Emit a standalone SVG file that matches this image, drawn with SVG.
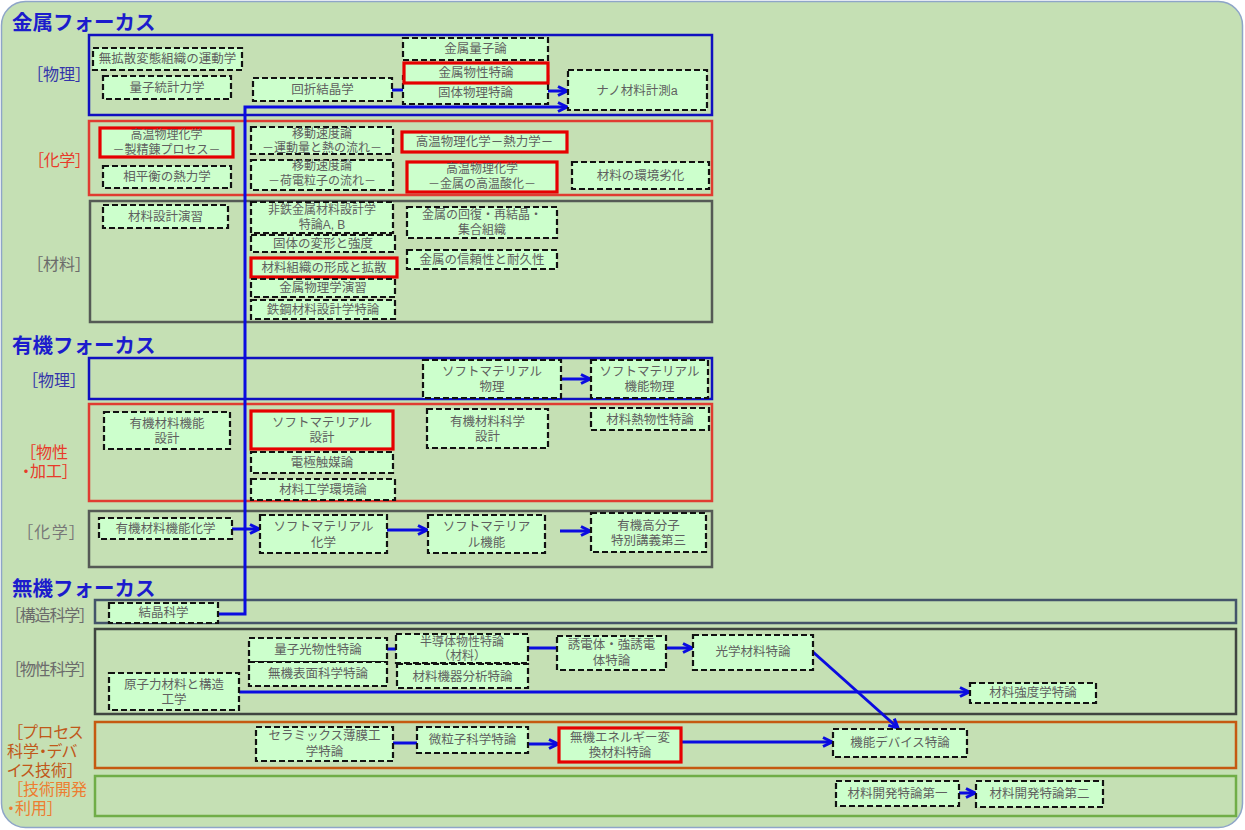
<svg xmlns="http://www.w3.org/2000/svg" width="1245" height="830" viewBox="0 0 1245 830">
<style>
.hd{font-family:"Noto Sans CJK JP","Noto Sans",sans-serif;font-size:20.5px;font-weight:bold;fill:#1c1ccc}
.lb{font-family:"Liberation Sans","Noto Sans CJK JP",sans-serif;font-size:16px;font-feature-settings:"palt";}
.grp{fill:none;stroke-width:2.5}
.n rect{fill:#ccffcc;stroke:#111;stroke-width:2.2;stroke-dasharray:6 3}
.n.r rect{stroke:#e60000;stroke-width:3.2;stroke-dasharray:none}
.n text{font-family:"Liberation Sans","Noto Sans CJK JP",sans-serif;font-size:12.5px;fill:#5f5f5f;text-anchor:middle;dominant-baseline:central}
.n text.s{font-size:12px}
.c path{fill:none;stroke:#0b0be0;stroke-width:3}
.c path.a{marker-end:url(#ah)}
</style>
<defs>
<marker id="ah" viewBox="0 0 12 12" refX="10" refY="6" markerWidth="12" markerHeight="12" markerUnits="userSpaceOnUse" orient="auto">
<path d="M1,1.5 L10,6 L1,10.5" fill="none" stroke="#0b0be0" stroke-width="3"/>
</marker>
</defs>
<rect x="0" y="0" width="1245" height="830" fill="#ffffff"/>
<rect x="1.5" y="1.5" width="1241" height="826" rx="24" fill="#c5e0b4" stroke="#8ea5c8" stroke-width="1.5"/>

<g id="headings">
<text class="hd" x="12" y="30">金属フォーカス</text>
<text class="hd" x="12" y="353">有機フォーカス</text>
<text class="hd" x="12" y="596">無機フォーカス</text>
</g>

<g id="labels">
<text class="lb" x="35" y="80" fill="#3333aa" textLength="48" lengthAdjust="spacing">［物理］</text>
<text class="lb" x="36" y="166" fill="#e83a2a" textLength="47" lengthAdjust="spacing">［化学］</text>
<text class="lb" x="35" y="270" fill="#6b6b6b" textLength="48" lengthAdjust="spacing">［材料］</text>
<text class="lb" x="30" y="386" fill="#3333aa" textLength="48" lengthAdjust="spacing">［物理］</text>
<text class="lb" x="28" y="458" fill="#e83a2a">［物性<tspan x="22" dy="19">・加工］</tspan></text>
<text class="lb" x="25" y="538" fill="#777777" textLength="52" lengthAdjust="spacing">［化学］</text>
<text class="lb" x="13" y="621" fill="#6b6b6b" textLength="74" lengthAdjust="spacing">［構造科学］</text>
<text class="lb" x="13" y="675" fill="#6b6b6b" textLength="74" lengthAdjust="spacing">［物性科学］</text>
<text class="lb" x="15" y="738" fill="#c0581a">［プロセス<tspan x="7" dy="19">科学・デバ</tspan><tspan x="7" dy="19">イス技術］</tspan></text>
<text class="lb" x="15" y="795" fill="#ed7d31">［技術開発<tspan x="7" dy="18.5">・利用］</tspan></text>
</g>

<g id="groups">
<rect class="grp" x="89" y="35" width="623" height="80" stroke="#1010c0"/>
<rect class="grp" x="89" y="121" width="623" height="74" stroke="#e03c31" stroke-width="2"/>
<rect class="grp" x="90" y="201" width="622" height="121" stroke="#555a55"/>
<rect class="grp" x="89" y="358" width="623" height="41" stroke="#1010c0"/>
<rect class="grp" x="89" y="404" width="623" height="97" stroke="#e03c31" stroke-width="2"/>
<rect class="grp" x="89" y="511" width="623" height="56" stroke="#555a55"/>
<rect class="grp" x="95" y="600" width="1141" height="23" stroke="#44546a"/>
<rect class="grp" x="95" y="629" width="1141" height="85" stroke="#3f4540"/>
<rect class="grp" x="95" y="722" width="1141" height="46" stroke="#c55a11"/>
<rect class="grp" x="95" y="776" width="1141" height="40" stroke="#70ad47"/>
</g>

<g id="connectors" class="c">
<path d="M392,90 H403"/>
<path class="a" d="M548,91 H567"/>
<path class="a" d="M218,614 H245 V107 H567"/>
<path class="a" d="M561,379 H590"/>
<path class="a" d="M232,529 H259"/>
<path class="a" d="M387,530 H427"/>
<path class="a" d="M560,531 H590"/>
<path d="M387,649 H396"/>
<path d="M528,648 H557"/>
<path class="a" d="M666,648 H692"/>
<path class="a" d="M239,692 H969"/>
<path class="a" d="M813,652 L898,728"/>
<path d="M393,743 H417"/>
<path class="a" d="M528,744 H558"/>
<path class="a" d="M681,742 H832"/>
<path class="a" d="M959,793 H975"/>
</g>

<g id="n1" class="n"><rect x="93" y="48" width="149" height="22"/><text x="167.5" y="59">無拡散変態組織の運動学</text></g>
<g id="n2" class="n"><rect x="103" y="76" width="128" height="23"/><text x="167" y="87.5">量子統計力学</text></g>
<g id="n3" class="n"><rect x="253" y="78" width="139" height="23"/><text x="322.5" y="89.5">回折結晶学</text></g>
<g id="n4" class="n"><rect x="403" y="38" width="145" height="22"/><text x="475.5" y="49">金属量子論</text></g>
<g id="n6" class="n"><rect x="403" y="76" width="145" height="28"/><text x="475.5" y="92.5">固体物理特論</text></g>
<g id="n5" class="n r"><rect x="404" y="63" width="144" height="20"/><text x="476" y="73">金属物性特論</text></g>
<g id="n7" class="n"><rect x="568" y="70" width="139" height="40"/><text x="637" y="91">ナノ材料計測a</text></g>

<g id="n8" class="n r"><rect x="100" y="128" width="133" height="29"/><text class="s" x="166.5" y="135">高温物理化学<tspan x="166.5" dy="14.5">－製精錬プロセス－</tspan></text></g>
<g id="n9" class="n"><rect x="251" y="127" width="142" height="27"/><text class="s" x="322" y="133.5">移動速度論<tspan x="322" dy="14">－運動量と熱の流れ－</tspan></text></g>
<g id="n10" class="n"><rect x="103" y="166" width="128" height="22"/><text x="167" y="177">相平衡の熱力学</text></g>
<g id="n11" class="n"><rect x="251" y="160" width="142" height="30"/><text class="s" x="322" y="166">移動速度論<tspan x="322" dy="15">－荷電粒子の流れ－</tspan></text></g>
<g id="n12" class="n r"><rect x="402" y="132" width="165" height="20"/><text x="484.5" y="142">高温物理化学－熱力学－</text></g>
<g id="n13" class="n r"><rect x="407" y="162" width="150" height="30"/><text class="s" x="482" y="168.5">高温物理化学<tspan x="482" dy="15">－金属の高温酸化－</tspan></text></g>
<g id="n14" class="n"><rect x="572" y="162" width="137" height="27"/><text x="640.5" y="175.5">材料の環境劣化</text></g>

<g id="n15" class="n"><rect x="103" y="205" width="125" height="23"/><text x="165.5" y="216.5">材料設計演習</text></g>
<g id="n16" class="n"><rect x="251" y="202" width="142" height="31"/><text class="s" x="322" y="210">非鉄金属材料設計学<tspan x="322" dy="15">特論A, B</tspan></text></g>
<g id="n17" class="n"><rect x="251" y="235" width="144" height="17"/><text x="323" y="243.5">固体の変形と強度</text></g>
<g id="n18" class="n r"><rect x="251" y="258" width="146" height="19"/><text x="324" y="267.5">材料組織の形成と拡散</text></g>
<g id="n19" class="n"><rect x="251" y="279" width="144" height="18"/><text x="323" y="288">金属物理学演習</text></g>
<g id="n20" class="n"><rect x="251" y="300" width="144" height="19"/><text x="323" y="309.5">鉄鋼材料設計学特論</text></g>
<g id="n21" class="n"><rect x="407" y="207" width="150" height="31"/><text class="s" x="482" y="215">金属の回復・再結晶・<tspan x="482" dy="14.5">集合組織</tspan></text></g>
<g id="n22" class="n"><rect x="407" y="250" width="150" height="19"/><text x="482" y="259.5">金属の信頼性と耐久性</text></g>

<g id="n23" class="n"><rect x="423" y="360" width="138" height="38"/><text x="492" y="372">ソフトマテリアル<tspan x="492" dy="15">物理</tspan></text></g>
<g id="n24" class="n"><rect x="591" y="360" width="117" height="38"/><text x="649.5" y="372">ソフトマテリアル<tspan x="649.5" dy="15">機能物理</tspan></text></g>

<g id="n25" class="n"><rect x="104" y="412" width="126" height="37"/><text x="167" y="424">有機材料機能<tspan x="167" dy="15">設計</tspan></text></g>
<g id="n26" class="n r"><rect x="251" y="411" width="142" height="38"/><text x="322" y="423">ソフトマテリアル<tspan x="322" dy="15">設計</tspan></text></g>
<g id="n27" class="n"><rect x="251" y="452" width="142" height="21"/><text x="322" y="463">電極触媒論</text></g>
<g id="n28" class="n"><rect x="251" y="479" width="144" height="21"/><text x="323" y="489.5">材料工学環境論</text></g>
<g id="n29" class="n"><rect x="427" y="409" width="121" height="39"/><text x="487.5" y="422">有機材料科学<tspan x="487.5" dy="15">設計</tspan></text></g>
<g id="n30" class="n"><rect x="591" y="408" width="118" height="22"/><text x="650" y="419.5">材料熱物性特論</text></g>

<g id="n31" class="n"><rect x="99" y="518" width="133" height="21"/><text x="165.5" y="528.5">有機材料機能化学</text></g>
<g id="n32" class="n"><rect x="260" y="515" width="127" height="38"/><text x="323.5" y="527">ソフトマテリアル<tspan x="323.5" dy="16">化学</tspan></text></g>
<g id="n33" class="n"><rect x="428" y="515" width="117" height="38"/><text x="486.5" y="527">ソフトマテリア<tspan x="486.5" dy="16">ル機能</tspan></text></g>
<g id="n34" class="n"><rect x="591" y="513" width="115" height="39"/><text x="648.5" y="526">有機高分子<tspan x="648.5" dy="15">特別講義第三</tspan></text></g>

<g id="n35" class="n"><rect x="109" y="603" width="109" height="20"/><text x="163.5" y="613">結晶科学</text></g>
<g id="n36" class="n"><rect x="249" y="638" width="138" height="24"/><text x="318" y="650">量子光物性特論</text></g>
<g id="n37" class="n"><rect x="249" y="662" width="138" height="24"/><text x="318" y="673.5">無機表面科学特論</text></g>
<g id="n38" class="n"><rect x="396" y="634" width="132" height="29"/><text class="s" x="462" y="641.5">半導体物性特論<tspan x="462" dy="14.5">（材料）</tspan></text></g>
<g id="n39" class="n"><rect x="397" y="664" width="131" height="24"/><text x="462.5" y="677">材料機器分析特論</text></g>
<g id="n40" class="n"><rect x="557" y="636" width="109" height="34"/><text x="611.5" y="645">誘電体・強誘電<tspan x="611.5" dy="16">体特論</tspan></text></g>
<g id="n41" class="n"><rect x="693" y="635" width="120" height="35"/><text x="753" y="652">光学材料特論</text></g>
<g id="n42" class="n"><rect x="109" y="673" width="130" height="37"/><text x="174" y="685">原子力材料と構造<tspan x="174" dy="15">工学</tspan></text></g>
<g id="n43" class="n"><rect x="970" y="683" width="126" height="20"/><text x="1033" y="693">材料強度学特論</text></g>

<g id="n44" class="n"><rect x="256" y="727" width="137" height="34"/><text x="324.5" y="735.5">セラミックス薄膜工<tspan x="324.5" dy="16.5">学特論</tspan></text></g>
<g id="n45" class="n"><rect x="417" y="727" width="111" height="26"/><text x="472.5" y="740">微粒子科学特論</text></g>
<g id="n46" class="n r"><rect x="559" y="728" width="122" height="34"/><text x="620" y="738">無機エネルギー変<tspan x="620" dy="15">換材料特論</tspan></text></g>
<g id="n47" class="n"><rect x="833" y="729" width="134" height="28"/><text x="900" y="743">機能デバイス特論</text></g>

<g id="n48" class="n"><rect x="836" y="781" width="123" height="25"/><text x="897.5" y="793.5">材料開発特論第一</text></g>
<g id="n49" class="n"><rect x="976" y="781" width="127" height="26"/><text x="1039.5" y="794">材料開発特論第二</text></g>
</svg>
